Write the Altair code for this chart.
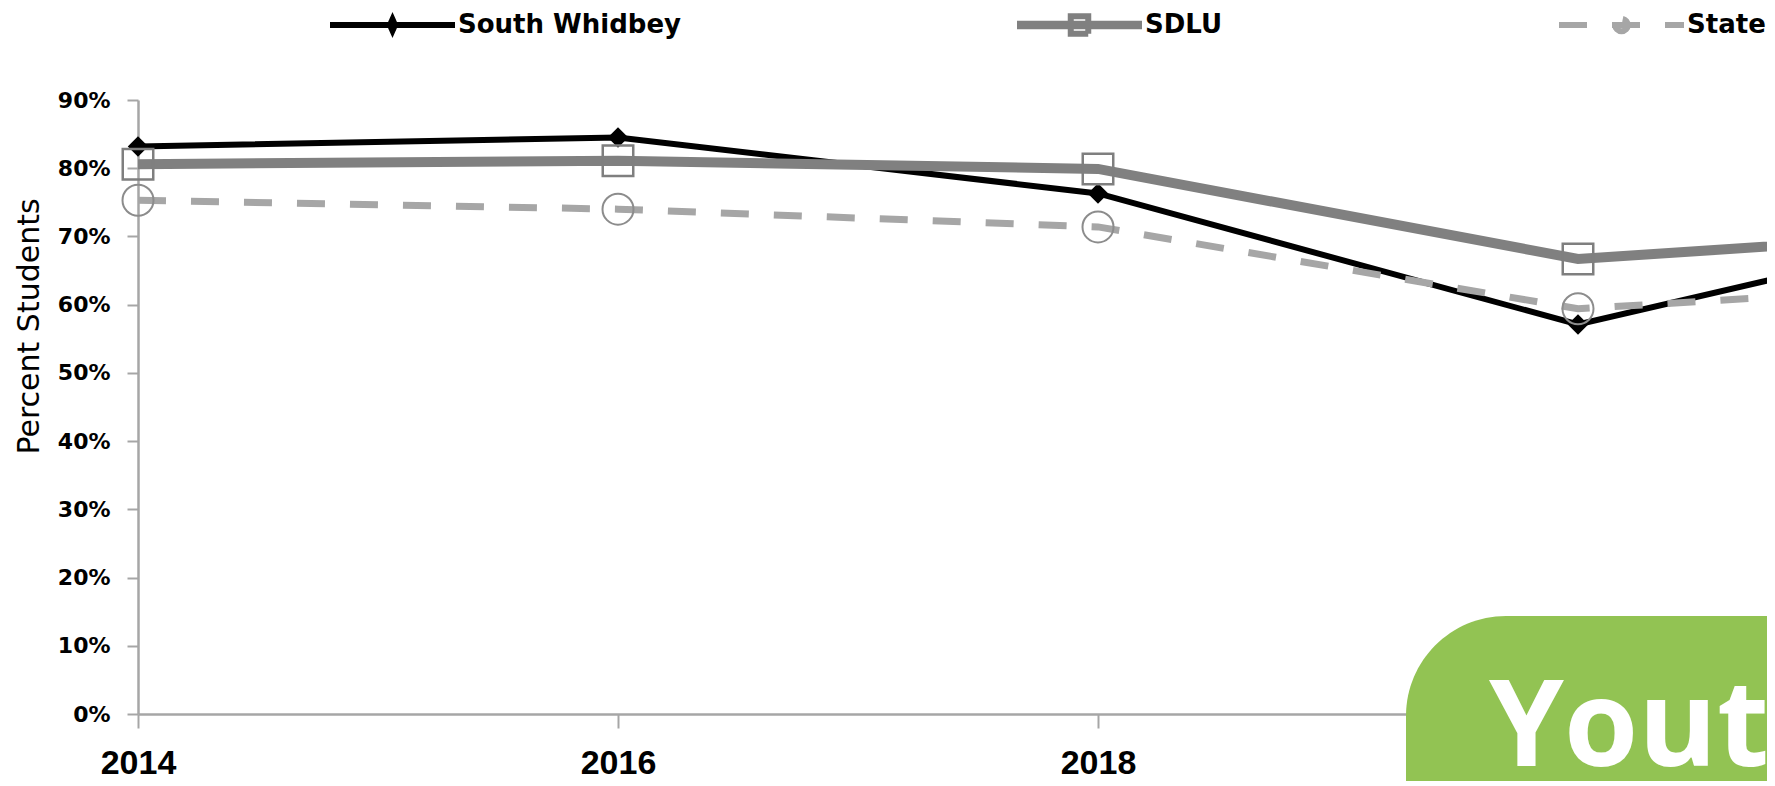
import altair as alt
import pandas as pd

# ---------------- data ----------------
years = [2014, 2016, 2018, 2020, 2022]
series_names = ["South Whidbey", "SDLU", "State"]
south_whidbey = [0.832, 0.845, 0.763, 0.571, 0.734]
sdlu = [0.806, 0.811, 0.799, 0.667, 0.713]
state = [0.753, 0.740, 0.714, 0.594, 0.636]
y_ticks = [0, 0.1, 0.2, 0.3, 0.4, 0.5, 0.6, 0.7, 0.8, 0.9]
x_ticks = [2014, 2016, 2018, 2020]
banner_text = ["Youth"]

rows = []
for name, vals in zip(series_names, [south_whidbey, sdlu, state]):
    for yr, v in zip(years, vals):
        rows.append({"year": yr, "series": name, "value": v})
df = pd.DataFrame(rows)

# ---------------- styles ----------------
line_styles = {
    "South Whidbey": dict(color="#000000", strokeWidth=6),
    "SDLU": dict(color="#808080", strokeWidth=10),
    "State": dict(color="#a6a6a6", strokeWidth=7, strokeDash=[28, 25]),
}
point_styles = {
    "South Whidbey": dict(shape="diamond", filled=True, color="#000000", size=420),
    "SDLU": dict(shape="square", filled=False, color="#7f7f7f", size=930, strokeWidth=2.5),
    "State": dict(shape="circle", filled=False, color="#8c8c8c", size=961, strokeWidth=2),
}
legend_colors = ["#000000", "#808080", "#a6a6a6"]
legend_dashes = [[1, 0], [1, 0], [28, 25]]
legend_shapes = [
    "M-1,0H1M0,-0.09L0.04,0L0,0.09L-0.04,0Z",
    "M-1,0H1M-1,-0.02H1M-1,0.02H1M-0.14,-0.14H0.14V0.14H-0.14Z",
    "M-1,0H1M-0.1,0A0.1,0.1,0,1,0,0.1,0A0.1,0.1,0,1,0,-0.1,0Z",
]

PLOT_W = 1629
PLOT_H = 614
x_max = 2014 + PLOT_W / 240.0

x_enc = alt.X(
    "year:Q",
    scale=alt.Scale(domain=[2014, x_max], nice=False, zero=False),
    axis=alt.Axis(
        values=x_ticks, format="d", title=None, grid=False,
        labelFlush=False, labelOverlap=False,
        labelFont="Liberation Sans", labelFontWeight="bold", labelFontSize=34,
        labelColor="#000000", labelPadding=18,
        domainColor="#a6a6a6", domainWidth=2.5,
        tickColor="#a6a6a6", tickWidth=2, tickSize=14,
    ),
)
y_enc = alt.Y(
    "value:Q",
    scale=alt.Scale(domain=[0, 0.9], nice=False, zero=True),
    axis=alt.Axis(
        values=y_ticks, format=".0%", grid=False,
        labelFlush=False, labelOverlap=False,
        labelFont="DejaVu Sans", labelFontWeight="bold", labelFontSize=22,
        labelColor="#000000", labelPadding=17,
        domainColor="#a6a6a6", domainWidth=2.5,
        tickColor="#a6a6a6", tickWidth=2, tickSize=11,
        title="Percent Students", titleFont="DejaVu Sans", titleFontSize=30,
        titleFontWeight="normal", titleColor="#000000",
        titleAngle=270, titleX=-109, titleY=226,
        titleAlign="center", titleBaseline="middle",
    ),
)

base = alt.Chart(df)
layers = []
for name in series_names:
    ls = line_styles[name]
    layers.append(
        base.transform_filter(alt.datum.series == name)
        .mark_line(clip=True, **ls)
        .encode(x=x_enc, y=y_enc)
    )
    ps = point_styles[name]
    layers.append(
        base.transform_filter((alt.datum.series == name) & (alt.datum.year <= 2020))
        .mark_point(opacity=1, **ps)
        .encode(x=x_enc, y=y_enc)
    )

leg = alt.Legend(
    title=None, orient="none", legendX=189, legendY=-90, direction="horizontal",
    columnPadding=333, labelOffset=0, clipHeight=30, symbolSize=15625,
    symbolStrokeWidth=6,
    labelFont="DejaVu Sans", labelFontWeight="bold", labelFontSize=26,
    labelColor="#000000", labelLimit=600, padding=0, offset=0,
)
legend_layer = (
    base.transform_filter("false")
    .mark_point(opacity=1, strokeWidth=6, filled=False)
    .encode(
        x=x_enc, y=y_enc,
        color=alt.Color("series:N", scale=alt.Scale(domain=series_names, range=legend_colors), legend=leg),
        shape=alt.Shape("series:N", scale=alt.Scale(domain=series_names, range=legend_shapes), legend=leg),
        strokeDash=alt.StrokeDash("series:N", scale=alt.Scale(domain=series_names, range=legend_dashes), legend=leg),
    )
)
layers.append(legend_layer)

banner_df = pd.DataFrame({"label": banner_text})
banner_box = alt.Chart(banner_df).mark_rect(
    color="#92C353", cornerRadiusTopLeft=100
).encode(
    x=alt.value(1268), x2=alt.value(1800), y=alt.value(516), y2=alt.value(720)
)
banner_label = alt.Chart(banner_df).mark_text(
    font="Open Sans", fontWeight="bold", fontSize=120, color="#ffffff",
    align="left", baseline="alphabetic",
).encode(text="label:N", x=alt.value(1351), y=alt.value(666))
layers += [banner_box, banner_label]

chart = alt.layer(*layers).properties(
    width=PLOT_W, height=PLOT_H,
    autosize=alt.AutoSizeParams(type="none"),
    padding={"left": 130, "top": 92, "right": 0, "bottom": 67},
    background="#ffffff",
).configure_view(stroke=None)

chart.save("out.html", embed_options={"renderer": "svg", "actions": False})
